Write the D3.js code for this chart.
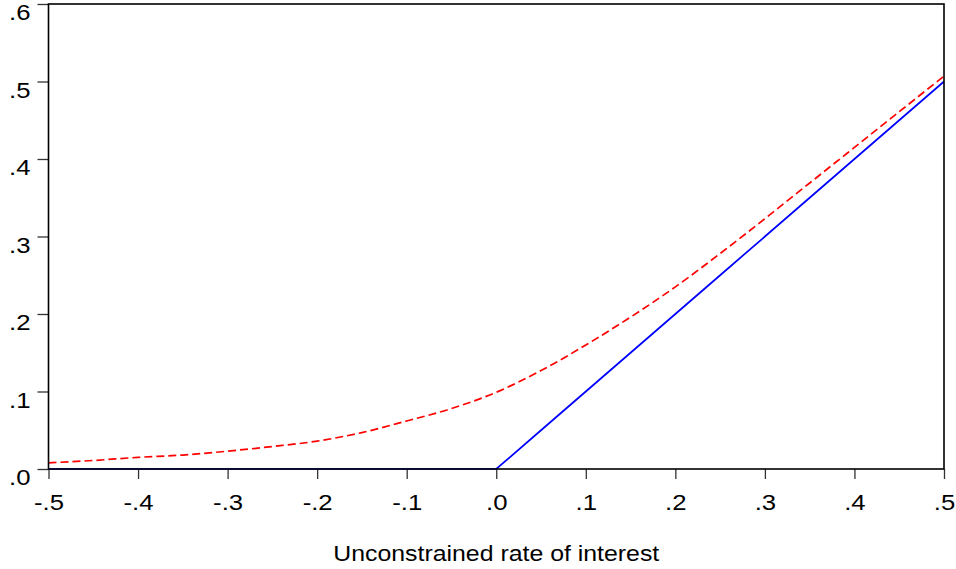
<!DOCTYPE html>
<html><head><meta charset="utf-8">
<script src="https://cdn.jsdelivr.net/npm/d3@7"></script>
<style>body{margin:0;background:#fff}svg{display:block}</style>
</head><body>
<svg id="c" width="956" height="569"></svg>
<script>
const xValues = [-0.5,-0.45,-0.4,-0.35,-0.3,-0.25,-0.2,-0.15,-0.1,-0.05,0,0.05,0.1,0.15,0.2,0.25,0.3,0.35,0.4,0.45,0.5];
const constrainedRate = [0,0,0,0,0,0,0,0,0,0,0,0.05,0.1,0.15,0.2,0.25,0.3,0.35,0.4,0.45,0.5];
const expectedRate = [0.008,0.011,0.015,0.018,0.023,0.029,0.036,0.047,0.062,0.078,0.099,0.127,0.160,0.196,0.235,0.278,0.323,0.369,0.415,0.461,0.507];
const xTicks = [-0.5,-0.4,-0.3,-0.2,-0.1,0,0.1,0.2,0.3,0.4,0.5];
const xTickLabels = ["-.5","-.4","-.3","-.2","-.1",".0",".1",".2",".3",".4",".5"];
const yTicks = [0,0.1,0.2,0.3,0.4,0.5,0.6];
const yTickLabels = [".0",".1",".2",".3",".4",".5",".6"];
const xTitle = "Unconstrained rate of interest";

const svg = d3.select("#c");
const L = 48.5, R = 944, T = 4, B = 469;
const x = d3.scaleLinear().domain([-0.5,0.5]).range([L,R]);
const y = d3.scaleLinear().domain([0,0.6]).range([B,T]);
const font = "'Liberation Sans', Arial, sans-serif";

const xa = svg.append("g").attr("transform",`translate(0,${B})`)
  .call(d3.axisBottom(x).tickValues(xTicks).tickFormat((d,i)=>xTickLabels[i]).tickSize(10));
const ya = svg.append("g").attr("transform",`translate(${L},0)`)
  .call(d3.axisLeft(y).tickValues(yTicks).tickFormat((d,i)=>yTickLabels[i]).tickSize(11));
[xa,ya].forEach(g=>{
  g.select(".domain").remove();
  g.selectAll("line").attr("stroke","#333").attr("stroke-width",1.3);
  g.selectAll("text").attr("fill","#000").style("font-family",font).style("font-size","22px");
});
xa.selectAll("text").attr("x",0).attr("y",41).attr("dy",null).attr("text-anchor","middle")
  .attr("transform","scale(1.17,1)");
ya.selectAll("text").attr("x",0).attr("y",0).attr("dy","0.35em").attr("text-anchor","end")
  .attr("transform","translate(-18,8) scale(1.17,1)");

const lineGen = d3.line().x((d,i)=>x(xValues[i])).y(d=>y(d));
svg.append("path").datum(constrainedRate).attr("d",lineGen)
  .attr("fill","none").attr("stroke","#0000ff").attr("stroke-width",1.7);
svg.append("path").datum(expectedRate).attr("d",lineGen.curve(d3.curveMonotoneX))
  .attr("fill","none").attr("stroke","#ff0000").attr("stroke-width",1.7).attr("stroke-dasharray","8,4");

svg.append("rect").attr("x",L).attr("y",T).attr("width",R-L).attr("height",B-T)
  .attr("fill","none").attr("stroke","#000").attr("stroke-width",1.6);

const cx = (L+R)/2;
svg.append("text").attr("x",0).attr("y",0).attr("text-anchor","middle")
  .attr("transform",`translate(${cx},561) scale(1.13,1)`)
  .style("font-family",font).style("font-size","22px").attr("fill","#000").text(xTitle);
</script>
</body></html>
